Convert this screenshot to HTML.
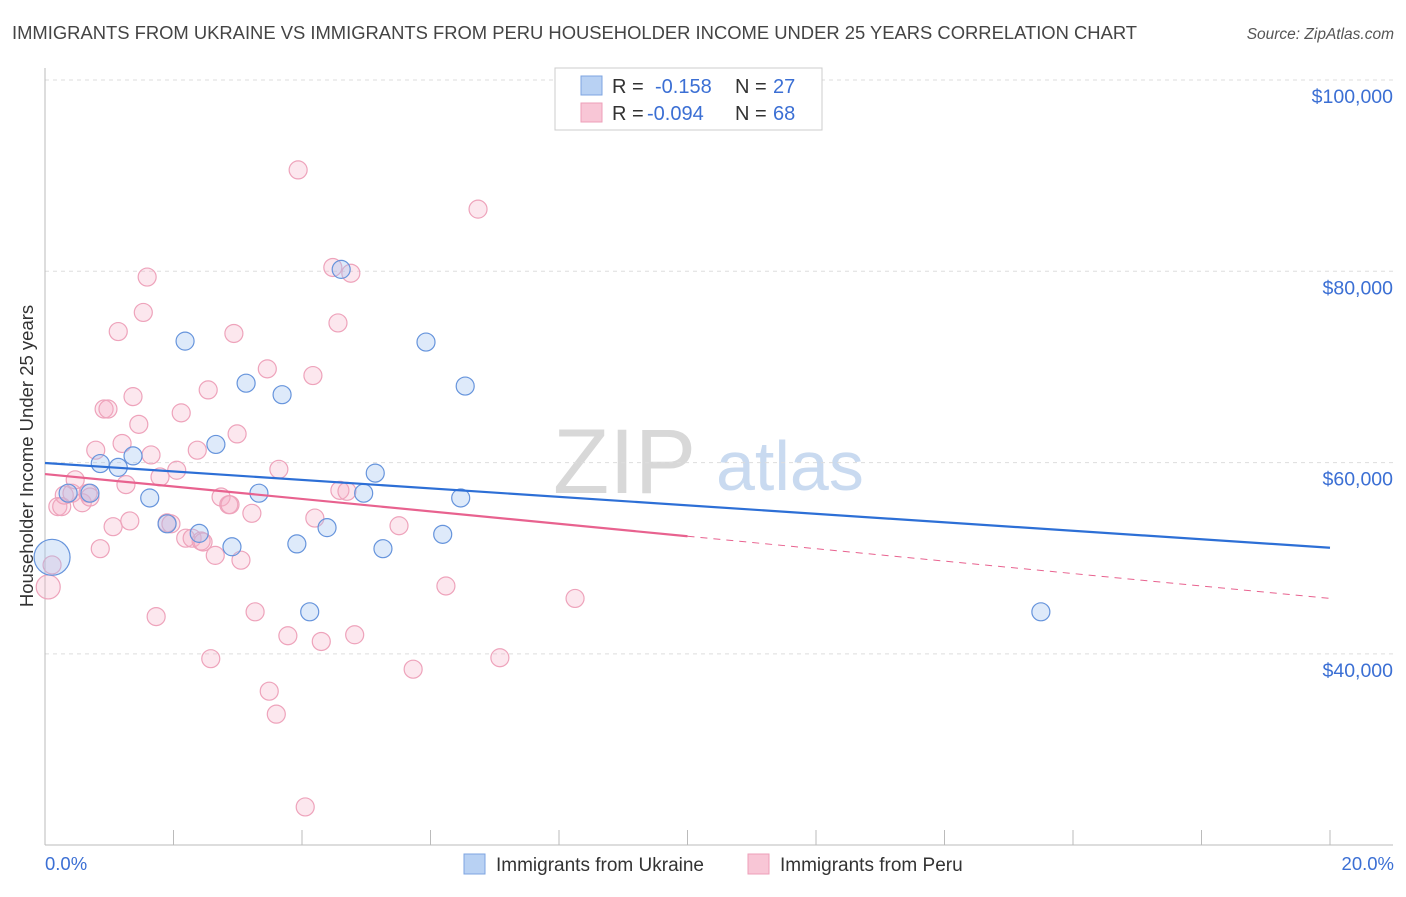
<!DOCTYPE html>
<html><head><meta charset="utf-8"><style>
body{margin:0;background:#fff;font-family:"Liberation Sans",sans-serif;}
svg text{font-family:"Liberation Sans",sans-serif;}
</style></head><body>
<svg id="chart" width="1406" height="892" viewBox="0 0 1406 892" xmlns="http://www.w3.org/2000/svg">
<text x="12" y="39" font-size="18.4" fill="#444">IMMIGRANTS FROM UKRAINE VS IMMIGRANTS FROM PERU HOUSEHOLDER INCOME UNDER 25 YEARS CORRELATION CHART</text>
<text x="1394" y="39" font-size="15.5" fill="#555" text-anchor="end" font-style="italic">Source: ZipAtlas.com</text>
<g>
<text x="553" y="493" font-size="92" fill="#d8d8d8" font-family="Liberation Serif, serif">ZIP</text>
<text x="716" y="490" font-size="70" fill="#c9daf0">atlas</text>
</g>
<g id="grid"></g>
<g id="axes"></g>
<g id="marks"></g>
<text transform="translate(33,456) rotate(-90)" font-size="18.5" fill="#333" text-anchor="middle">Householder Income Under 25 years</text>
<text x="45" y="870" font-size="18.5" fill="#3b6fd4">0.0%</text>
<text x="1394" y="870" font-size="18.5" fill="#3b6fd4" text-anchor="end">20.0%</text>
<g>
<rect x="555" y="68" width="267" height="62" fill="#fff" stroke="#ccc"/>
<rect x="581" y="76" width="21" height="19" fill="#b8d1f3" stroke="#7ea4e0"/>
<rect x="581" y="103" width="21" height="19" fill="#f8c6d6" stroke="#ee9fb8"/>
<text x="612" y="93" font-size="20" fill="#333">R = </text><text x="655" y="93" font-size="20" fill="#3b6fd4">-0.158</text>
<text x="735" y="93" font-size="20" fill="#333">N = </text><text x="773" y="93" font-size="20" fill="#3b6fd4">27</text>
<text x="612" y="120" font-size="20" fill="#333">R = </text><text x="647" y="120" font-size="20" fill="#3b6fd4">-0.094</text>
<text x="735" y="120" font-size="20" fill="#333">N = </text><text x="773" y="120" font-size="20" fill="#3b6fd4">68</text>
</g>
<g>
<rect x="464" y="854" width="21" height="20" fill="#b8d1f3" stroke="#7ea4e0"/>
<text x="496" y="871" font-size="19" fill="#333">Immigrants from Ukraine</text>
<rect x="748" y="854" width="21" height="20" fill="#f8c6d6" stroke="#ee9fb8"/>
<text x="780" y="871" font-size="19" fill="#333">Immigrants from Peru</text>
</g>
</svg>
<script>
const yTicks=[40000,60000,80000,100000];
const yTickLabels=["$40,000","$60,000","$80,000","$100,000"];
const xTicks=[0,2,4,6,8,10,12,14,16,18,20];
const ukraineX=[0.11,0.36,0.70,0.86,1.14,1.37,1.63,1.90,2.18,2.40,2.66,2.91,3.13,3.33,3.69,3.92,4.12,4.39,4.61,4.96,5.14,5.26,5.93,6.19,6.47,6.54,15.50];
const ukraineY=[50.1,56.8,56.8,59.9,59.5,60.7,56.3,53.6,72.7,52.6,61.9,51.2,68.3,56.8,67.1,51.5,44.4,53.2,80.2,56.8,58.9,51.0,72.6,52.5,56.3,68.0,44.4];
const ukraineSize=[18,9,9,9,9,9,9,9,9,9,9,9,9,9,9,9,9,9,9,9,9,9,9,9,9,9,9];
const peruX=[0.05,0.11,0.20,0.26,0.30,0.42,0.47,0.58,0.67,0.70,0.79,0.86,0.92,0.98,1.06,1.14,1.20,1.26,1.32,1.37,1.46,1.53,1.59,1.65,1.73,1.79,1.90,1.96,2.05,2.12,2.19,2.29,2.37,2.43,2.46,2.54,2.58,2.65,2.74,2.86,2.88,2.94,2.99,3.05,3.22,3.27,3.46,3.49,3.60,3.64,3.78,3.94,4.05,4.17,4.20,4.30,4.48,4.56,4.59,4.70,4.76,4.82,5.51,5.73,6.24,6.74,7.08,8.25];
const peruY=[47.0,49.3,55.4,55.4,56.6,56.8,58.2,55.8,56.8,56.4,61.3,51.0,65.6,65.6,53.3,73.7,62.0,57.7,53.9,66.9,64.0,75.7,79.4,60.8,43.9,58.5,53.7,53.6,59.2,65.2,52.1,52.1,61.3,51.8,51.7,67.6,39.5,50.3,56.4,55.6,55.6,73.5,63.0,49.8,54.7,44.4,69.8,36.1,33.7,59.3,41.9,90.6,24.0,69.1,54.2,41.3,80.4,74.6,57.1,57.0,79.8,42.0,53.4,38.4,47.1,86.5,39.6,45.8];
const ukraineTrend=[59.96,51.1];
const peruTrend=[58.8,45.8];
const peruSolidEnd=10;

const X0=45,X1=1330,Y100=80,PX20K=191.3;
const xs=v=>X0+(v/20)*(X1-X0);
const ys=k=>Y100+(100-k)/20*PX20K;
const NS="http://www.w3.org/2000/svg";
function mk(tag,attrs,parent){const e=document.createElementNS(NS,tag);for(const k in attrs)e.setAttribute(k,attrs[k]);parent.appendChild(e);return e;}
const grid=document.getElementById('grid'),axes=document.getElementById('axes'),marks=document.getElementById('marks');
yTicks.forEach((t,i)=>{
  const y=ys(t/1000);
  const l=mk('line',{x1:X0,x2:1393,y1:y,y2:y,stroke:'#ddd','stroke-dasharray':'4,4'},grid);
  
  
  const tx=mk('text',{x:1393,y:y+23,'font-size':19.5,fill:'#3b6fd4','text-anchor':'end'},axes);
  tx.textContent=yTickLabels[i];
  
  
});
const ax=mk('line',{x1:X0,x2:X0,y1:68,y2:845,stroke:'#bbb'},axes);


const bx=mk('line',{x1:X0,x2:1393,y1:845,y2:845,stroke:'#bbb'},axes);


xTicks.forEach(t=>{
  const tk=mk('line',{x1:xs(t),x2:xs(t),y1:830,y2:845,stroke:'#bbb'},axes);
  
  
});
peruX.forEach((x,i)=>{
  const c=mk('circle',{cx:xs(x),cy:ys(peruY[i]),r:(i===0?12:9),fill:'rgba(246,176,199,0.3)',stroke:'#eea3bb','stroke-width':1.2},marks);
  
  
});
ukraineX.forEach((x,i)=>{
  const c=mk('circle',{cx:xs(x),cy:ys(ukraineY[i]),r:ukraineSize[i],fill:'rgba(160,196,240,0.35)',stroke:'#6694dc','stroke-width':1.2},marks);
  
  
});
const pAt=x=>peruTrend[0]+(peruTrend[1]-peruTrend[0])*x/20;
const pl=mk('line',{x1:xs(0),y1:ys(pAt(0)),x2:xs(peruSolidEnd),y2:ys(pAt(peruSolidEnd)),stroke:'#e8628f','stroke-width':2.2},marks);


const pd=mk('line',{x1:xs(peruSolidEnd),y1:ys(pAt(peruSolidEnd)),x2:xs(20),y2:ys(pAt(20)),stroke:'#e8628f','stroke-width':1,'stroke-dasharray':'7,6'},marks);


const ul=mk('line',{x1:xs(0),y1:ys(ukraineTrend[0]),x2:xs(20),y2:ys(ukraineTrend[1]),stroke:'#2d6fd6','stroke-width':2.2},marks);


</script>
</body></html>
